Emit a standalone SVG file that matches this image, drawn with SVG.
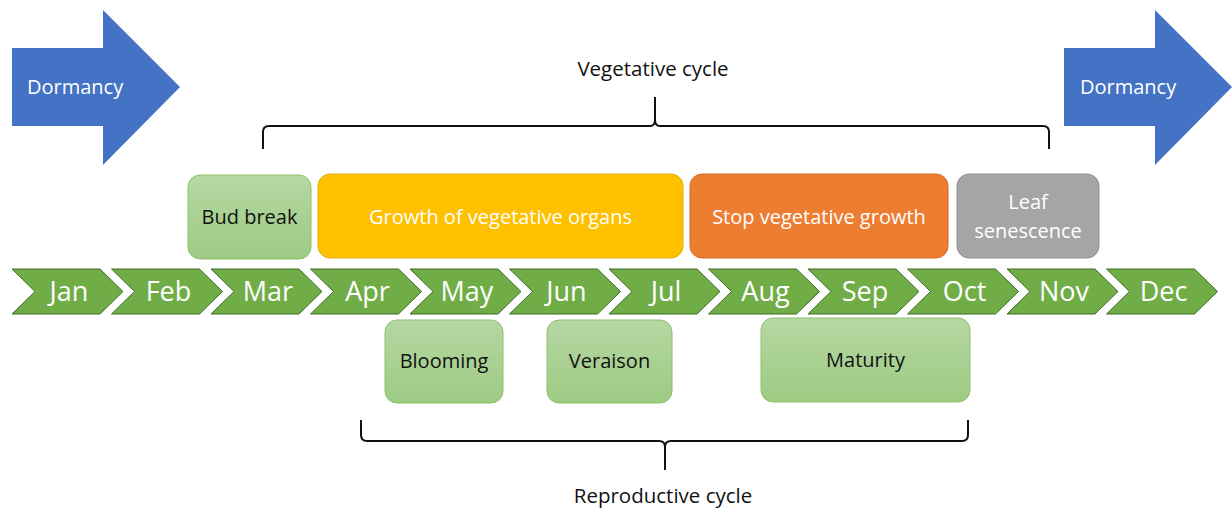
<svg xmlns="http://www.w3.org/2000/svg" width="1232" height="511" viewBox="0 0 1232 511">
<defs>
<linearGradient id="gg" x1="0" y1="0" x2="0" y2="1">
<stop offset="0" stop-color="#B6D7A3"/>
<stop offset="1" stop-color="#9DCB83"/>
</linearGradient>
<style>
text{font-family:"Open Sans","Liberation Sans",sans-serif;}
.arrow{fill:#4472C4;}
.at{fill:#fff;font-size:20px;}
.chev{fill:#70AD47;stroke:#3E6B28;stroke-width:1;}
.mt{fill:#fff;font-size:27px;text-anchor:middle;}
.gbox{fill:url(#gg);stroke:#8DC26B;stroke-width:1;}
.bt{font-size:20px;text-anchor:middle;}
.dark{fill:#111;}
.light{fill:#fff;}
.brace{fill:none;stroke:#111;stroke-width:2;}
.lbl{fill:#111;font-size:20.5px;text-anchor:middle;}
</style>
</defs>
<g id="dormancy-left">
<polygon class="arrow" points="12,48 103,48 103,10 180,87 103,165 103,126 12,126"/>
<text class="at" x="27" y="94">Dormancy</text>
</g>
<g id="dormancy-right">
<polygon class="arrow" points="1064,48 1155,48 1155,10 1232,87 1155,165 1155,126 1064,126"/>
<text class="at" x="1080" y="94">Dormancy</text>
</g>
<g id="timeline">
<g id="m-jan"><polygon class="chev" points="12,269 100,269 123,291.5 100,314 12,314 35,291.5"/><text class="mt" x="69" y="301">Jan</text></g>
<g id="m-feb"><polygon class="chev" points="111.5,269 199.5,269 222.5,291.5 199.5,314 111.5,314 134.5,291.5"/><text class="mt" x="168.5" y="301">Feb</text></g>
<g id="m-mar"><polygon class="chev" points="211,269 299,269 322,291.5 299,314 211,314 234,291.5"/><text class="mt" x="268" y="301">Mar</text></g>
<g id="m-apr"><polygon class="chev" points="310.5,269 398.5,269 421.5,291.5 398.5,314 310.5,314 333.5,291.5"/><text class="mt" x="367.5" y="301">Apr</text></g>
<g id="m-may"><polygon class="chev" points="410,269 498,269 521,291.5 498,314 410,314 433,291.5"/><text class="mt" x="467" y="301">May</text></g>
<g id="m-jun"><polygon class="chev" points="509.5,269 597.5,269 620.5,291.5 597.5,314 509.5,314 532.5,291.5"/><text class="mt" x="566.5" y="301">Jun</text></g>
<g id="m-jul"><polygon class="chev" points="609,269 697,269 720,291.5 697,314 609,314 632,291.5"/><text class="mt" x="666" y="301">Jul</text></g>
<g id="m-aug"><polygon class="chev" points="708.5,269 796.5,269 819.5,291.5 796.5,314 708.5,314 731.5,291.5"/><text class="mt" x="765.5" y="301">Aug</text></g>
<g id="m-sep"><polygon class="chev" points="808,269 896,269 919,291.5 896,314 808,314 831,291.5"/><text class="mt" x="865" y="301">Sep</text></g>
<g id="m-oct"><polygon class="chev" points="907.5,269 995.5,269 1018.5,291.5 995.5,314 907.5,314 930.5,291.5"/><text class="mt" x="964.5" y="301">Oct</text></g>
<g id="m-nov"><polygon class="chev" points="1007,269 1095,269 1118,291.5 1095,314 1007,314 1030,291.5"/><text class="mt" x="1064" y="301">Nov</text></g>
<g id="m-dec"><polygon class="chev" points="1106.5,269 1194.5,269 1217.5,291.5 1194.5,314 1106.5,314 1129.5,291.5"/><text class="mt" x="1163.5" y="301">Dec</text></g>
</g>
<g id="bud-break">
<rect class="gbox" x="188" y="175" width="123" height="84" rx="12"/>
<text class="bt dark" x="249.5" y="224">Bud break</text>
</g>
<g id="growth">
<rect x="318" y="174" width="365" height="84" rx="12" fill="#FFC000" stroke="#E3AC00"/>
<text class="bt light" x="500.5" y="224">Growth of vegetative organs</text>
</g>
<g id="stop-growth">
<rect x="690" y="174" width="258" height="84" rx="12" fill="#ED7D31" stroke="#D06A25"/>
<text class="bt light" x="819" y="224">Stop vegetative growth</text>
</g>
<g id="leaf-senescence">
<rect x="957" y="174" width="142" height="84" rx="12" fill="#A5A5A5" stroke="#8F8F8F"/>
<text class="bt light" x="1028" y="209">Leaf</text>
<text class="bt light" x="1028" y="238">senescence</text>
</g>
<g id="blooming">
<rect class="gbox" x="385" y="320" width="118" height="83" rx="12"/>
<text class="bt dark" x="444" y="368">Blooming</text>
</g>
<g id="veraison">
<rect class="gbox" x="547" y="320" width="125" height="83" rx="12"/>
<text class="bt dark" x="609.5" y="368">Veraison</text>
</g>
<g id="maturity">
<rect class="gbox" x="761" y="318" width="209" height="84" rx="12"/>
<text class="bt dark" x="865.5" y="367">Maturity</text>
</g>
<g id="connectors">
<path class="brace" d="M263,149 L263,132 Q263,126 269,126 L650,126 Q655,126 655,120 L655,97 M655,120 Q655,126 660,126 L1043,126 Q1049,126 1049,132 L1049,149"/>
<path class="brace" d="M361,420 L361,435 Q361,441 367,441 L659,441 Q665,441 665,447 L665,470 M665,447 Q665,441 671,441 L962,441 Q968,441 968,435 L968,420"/>
</g>
<g id="labels">
<text class="lbl" x="653" y="76">Vegetative cycle</text>
<text class="lbl" x="663" y="503">Reproductive cycle</text>
</g>
</svg>
